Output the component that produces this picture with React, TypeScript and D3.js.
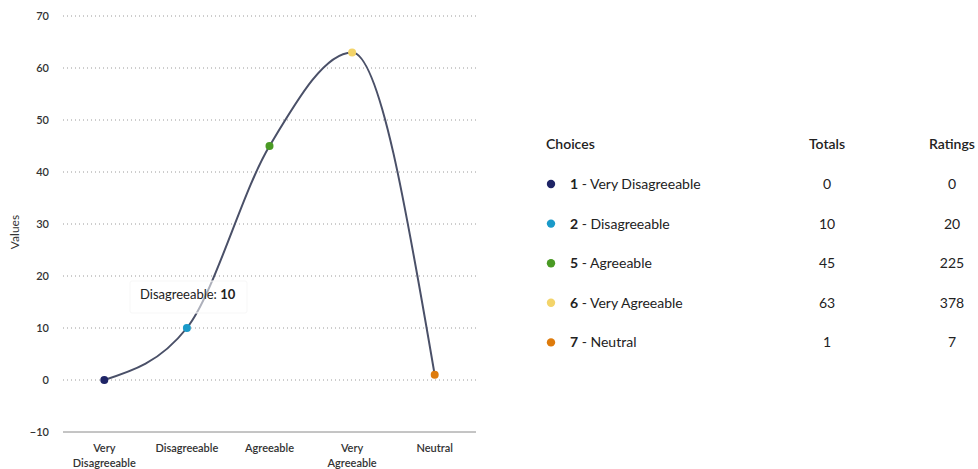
import React from "react";
import * as d3 from "d3";

const categories = ["Very Disagreeable", "Disagreeable", "Agreeable", "Very Agreeable", "Neutral"];
const totals = [0, 10, 45, 63, 1];
const ratings = [0, 20, 225, 378, 7];
const choiceNumbers = ["1", "2", "5", "6", "7"];
const pointColors = ["#1e2466", "#1a9ac9", "#4a9a24", "#f3d46a", "#de7b0c"];
const yTicks = [-10, 0, 10, 20, 30, 40, 50, 60, 70];

const W = 978;
const H = 469;
const plot = { left: 63, right: 476, top: 16, bottom: 432 };
const FONT = "Lato, 'Open Sans', sans-serif";

// Split a category label into two lines where needed (e.g. "Very Disagreeable")
function labelLines(s: string): string[] {
  const parts = s.split(" ");
  return parts.length > 1 ? [parts[0], parts.slice(1).join(" ")] : [s];
}

export default function App() {
  const x = d3.scalePoint<string>().domain(categories).range([plot.left, plot.right]).padding(0.5);
  const y = d3.scaleLinear().domain([-10, 70]).range([plot.bottom, plot.top]);

  const line = d3
    .line<number>()
    .x((_, i) => x(categories[i]) as number)
    .y((d) => y(d))
    .curve(d3.curveMonotoneX);

  const tipIdx = 1;
  const tipX = 140;
  const tipY = 299;

  const rowY0 = 184;
  const rowStep = 39.6;

  return (
    <svg width={W} height={H} style={{ position: "absolute", left: 0, top: 0, background: "#fff" }}>
      {/* grid */}
      {yTicks.map((t) =>
        t === -10 ? null : (
          <line
            key={"g" + t}
            x1={plot.left}
            x2={plot.right}
            y1={y(t)}
            y2={y(t)}
            stroke="#9a9a9a"
            strokeWidth={1}
            strokeDasharray="1,3"
          />
        )
      )}
      {/* bottom axis line */}
      <line x1={plot.left} x2={plot.right} y1={y(-10)} y2={y(-10)} stroke="#8a8a8a" strokeWidth={1} />

      {/* y tick labels */}
      {yTicks.map((t) => (
        <text
          key={"t" + t}
          x={49}
          y={y(t) + 4}
          textAnchor="end"
          fontFamily={FONT}
          fontSize={11}
          fontWeight={600}
          fill="#333"
        >
          {t === -10 ? "\u221210" : t}
        </text>
      ))}
      <text
        transform={`translate(19,${(plot.top + plot.bottom) / 2 + 8}) rotate(-90)`}
        textAnchor="middle"
        fontFamily={FONT}
        fontSize={12}
        fill="#333"
      >
        Values
      </text>

      {/* x labels */}
      {categories.map((c) => (
        <text key={"x" + c} textAnchor="middle" fontFamily={FONT} fontSize={11} fontWeight={600} fill="#333">
          {labelLines(c).map((ln, j) => (
            <tspan key={j} x={x(c)} y={452 + j * 15}>
              {ln}
            </tspan>
          ))}
        </text>
      ))}

      {/* series line */}
      <path d={line(totals) || ""} fill="none" stroke="#4a5068" strokeWidth={2} />

      {/* points */}
      {totals.map((v, i) => (
        <circle key={"p" + i} cx={x(categories[i])} cy={y(v)} r={4} fill={pointColors[i]} />
      ))}

      {/* tooltip */}
      <rect x={130} y={281} width={117} height={32} fill="#ffffff" fillOpacity={0.55} stroke="#f7f7f7" strokeWidth={1} rx={2} />
      <text x={tipX} y={tipY} fontFamily={FONT} fontSize={13} fill="#222">
        {categories[tipIdx]}:{" "}
        <tspan fontWeight={700}>{totals[tipIdx]}</tspan>
      </text>

      {/* table */}
      <text x={546} y={149} fontFamily={FONT} fontSize={14} fontWeight={600} fill="#222">
        Choices
      </text>
      <text x={827} y={149} textAnchor="middle" fontFamily={FONT} fontSize={14} fontWeight={600} fill="#222">
        Totals
      </text>
      <text x={952} y={149} textAnchor="middle" fontFamily={FONT} fontSize={14} fontWeight={600} fill="#222">
        Ratings
      </text>
      {categories.map((c, i) => {
        const ry = rowY0 + i * rowStep;
        return (
          <g key={"r" + c}>
            <circle cx={551} cy={ry} r={4.2} fill={pointColors[i]} />
            <text x={570} y={ry + 5} fontFamily={FONT} fontSize={14} fill="#222">
              <tspan fontWeight={700}>{choiceNumbers[i]}</tspan>
              <tspan> - {c}</tspan>
            </text>
            <text x={827} y={ry + 5} textAnchor="middle" fontFamily={FONT} fontSize={14} fill="#222">
              {totals[i]}
            </text>
            <text x={952} y={ry + 5} textAnchor="middle" fontFamily={FONT} fontSize={14} fill="#222">
              {ratings[i]}
            </text>
          </g>
        );
      })}
    </svg>
  );
}
